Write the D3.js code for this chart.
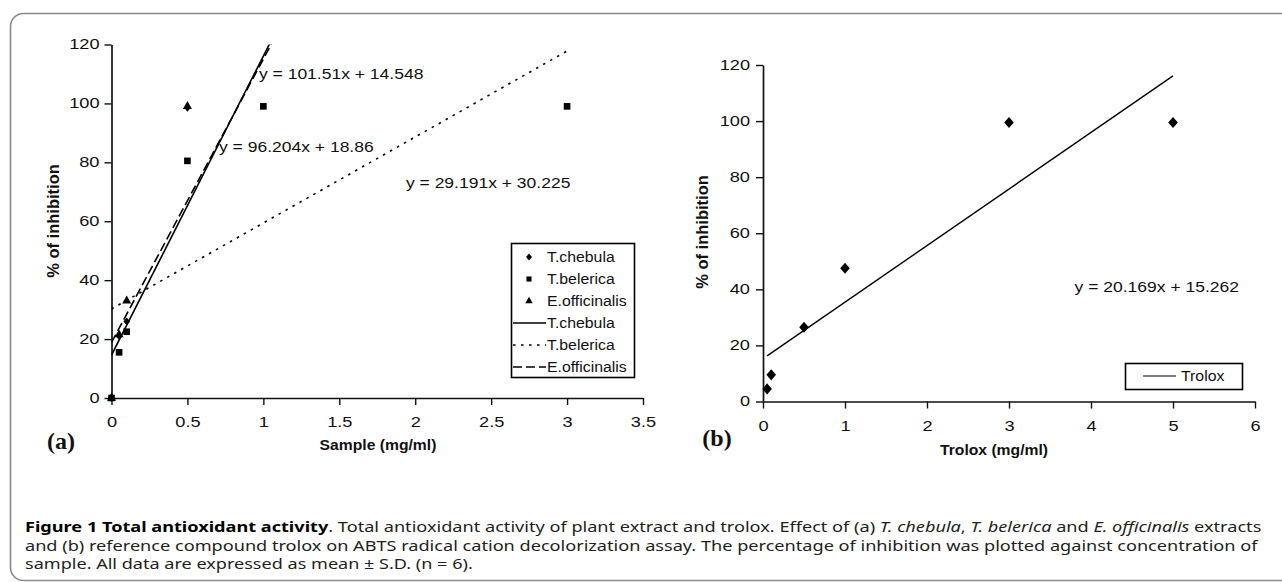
<!DOCTYPE html>
<html><head><meta charset="utf-8">
<script src="https://cdn.jsdelivr.net/npm/d3@7"></script>
<style>
body{margin:0;background:#fff;}
svg{display:block;}
</style></head>
<body>
<svg id="c" width="1282" height="582"></svg>
<script>
// ---------- DATA ----------
const xTicksA = [0, 0.5, 1, 1.5, 2, 2.5, 3, 3.5];
const yTicks = [0, 20, 40, 60, 80, 100, 120];
const xTicksB = [0, 1, 2, 3, 4, 5, 6];

const chebulaX = [0, 0.05, 0.1, 0.5];
const chebulaY = [0, 21, 26, 98.5];
const belericaX = [0, 0.05, 0.1, 0.5, 1, 3];
const belericaY = [0, 15.5, 22.5, 80.5, 99, 99];
const officinalisX = [0, 0.05, 0.1, 0.5];
const officinalisY = [0, 21.5, 33, 99];

const trendNames = ["T.chebula", "T.belerica", "E.officinalis"];
const trendSlopes = [101.51, 29.191, 96.204];
const trendIntercepts = [14.548, 30.225, 18.86];
const trendRanges = [[0, 1.2], [0, 3], [0, 1.2]];
const trendLabels = ["y = 101.51x + 14.548", "y = 29.191x + 30.225", "y = 96.204x + 18.86"];
const trendLabelAt = [[0.971, 110], [1.939, 73], [0.708, 85.2]];

const troloxX = [0.05, 0.1, 0.5, 1, 3, 5];
const troloxY = [4.5, 9.5, 26.5, 47.5, 99.5, 99.5];
const troloxSlope = 20.169, troloxIntercept = 15.262;
const troloxRange = [0.05, 5];
const troloxLabel = "y = 20.169x + 15.262";
const troloxLabelAt = [3.80, 40.7];

const legendA = ["T.chebula", "T.belerica", "E.officinalis", "T.chebula", "T.belerica", "E.officinalis"];

// ---------- HELPERS ----------
const svg = d3.select("#c");
const F = 'Arial,"Liberation Sans",sans-serif';
function stretch(sel, k) {
  sel.each(function () {
    const w = this.getComputedTextLength();
    d3.select(this).attr("textLength", w * k).attr("lengthAdjust", "spacingAndGlyphs");
  });
}
const diamondType = {
  draw(ctx, size) {
    const r = Math.sqrt(size / 2);
    ctx.moveTo(0, -r * 1.15); ctx.lineTo(r, 0); ctx.lineTo(0, r * 1.15); ctx.lineTo(-r, 0); ctx.closePath();
  }
};
const sym = {
  diamond: d3.symbol().type(diamondType),
  square: d3.symbol().type(d3.symbolSquare),
  triangle: d3.symbol().type(d3.symbolTriangle)
};
function pts(g, xs, ys, x, y, s, size) {
  g.selectAll(null).data(xs.map((v, i) => [v, ys[i]])).join("path")
    .attr("d", s.size(size)()).attr("fill", "#000")
    .attr("transform", d => `translate(${x(d[0])},${y(d[1])})`);
}
function axes(g, x, y, xt, yt, xfmt, xLabY, yLabX) {
  const xa = g.append("g").attr("transform", `translate(0,${y.range()[0]})`)
    .call(d3.axisBottom(x).tickValues(xt).tickSize(7).tickSizeOuter(0).tickFormat(xfmt));
  const ya = g.append("g").attr("transform", `translate(${x.range()[0]},0)`)
    .call(d3.axisLeft(y).tickValues(yt).tickSize(7).tickSizeOuter(0));
  [xa, ya].forEach(a => {
    a.select(".domain").attr("stroke", "#111").attr("stroke-width", 1.7);
    a.selectAll(".tick line").attr("stroke", "#111").attr("stroke-width", 1.4);
    a.selectAll(".tick text").attr("font-size", 14).attr("fill", "#111").attr("font-family", F);
  });
  xa.selectAll(".tick text").attr("y", xLabY);
  ya.selectAll(".tick text").attr("x", -yLabX);
  stretch(xa.selectAll(".tick text"), 1.3);
  stretch(ya.selectAll(".tick text"), 1.3);
}

// frame
svg.append("rect").attr("x", 10.5).attr("y", 13.5).attr("width", 1300).attr("height", 567)
  .attr("rx", 13).attr("fill", "none").attr("stroke", "#8a8a8a").attr("stroke-width", 1.6);

// ---- Panel A ----
const xA = d3.scaleLinear().domain([0, 3.5]).range([111.5, 643]);
const yA = d3.scaleLinear().domain([0, 120]).range([398, 44.5]);
const gA = svg.append("g");
gA.append("clipPath").attr("id", "clipA").append("rect")
  .attr("x", xA(0)).attr("y", yA(120)).attr("width", xA(3.5) - xA(0)).attr("height", yA(0) - yA(120));
axes(gA, xA, yA, xTicksA, yTicks, d3.format("~g"), 19, 12);

const dashes = [null, "2.5,5.5", "9,4"];
const lineG = gA.append("g").attr("clip-path", "url(#clipA)");
trendNames.forEach((n, i) => {
  const xs = trendRanges[i];
  lineG.append("line")
    .attr("x1", xA(xs[0])).attr("y1", yA(trendSlopes[i] * xs[0] + trendIntercepts[i]))
    .attr("x2", xA(xs[1])).attr("y2", yA(trendSlopes[i] * xs[1] + trendIntercepts[i]))
    .attr("stroke", "#000").attr("stroke-width", 1.6)
    .attr("stroke-dasharray", dashes[i]);
});

pts(gA, belericaX, belericaY, xA, yA, sym.square, 44);
pts(gA, chebulaX, chebulaY, xA, yA, sym.diamond, 22);
pts(gA, officinalisX, officinalisY, xA, yA, sym.triangle, 36);

trendLabels.forEach((t, i) => {
  gA.append("text").attr("class", "eq").attr("x", xA(trendLabelAt[i][0])).attr("y", yA(trendLabelAt[i][1]))
    .attr("dy", "0.35em").attr("font-family", F).attr("font-size", 14).attr("fill", "#111").text(t);
});
stretch(gA.selectAll(".eq"), 1.25);

// legend A
const lgA = gA.append("g");
lgA.append("rect").attr("x", 511.5).attr("y", 243.5).attr("width", 123).attr("height", 134)
  .attr("fill", "#fff").attr("stroke", "#000").attr("stroke-width", 1.6);
const legSyms = [sym.diamond, sym.square, sym.triangle];
const legSizes = [18, 26, 24];
legendA.forEach((n, i) => {
  const cy = 257 + i * 22;
  if (i < 3) {
    lgA.append("path").attr("d", legSyms[i].size(legSizes[i])()).attr("fill", "#000")
      .attr("transform", `translate(529,${cy})`);
  } else {
    lgA.append("line").attr("x1", 513).attr("x2", 546).attr("y1", cy).attr("y2", cy)
      .attr("stroke", "#000").attr("stroke-width", 1.6).attr("stroke-dasharray", dashes[i - 3]);
  }
  lgA.append("text").attr("class", "lg").attr("x", 547).attr("y", cy).attr("dy", "0.35em")
    .attr("font-family", F).attr("font-size", 14).attr("fill", "#111").text(n);
});
stretch(lgA.selectAll(".lg"), 1.13);

// titles A
const tA = gA.append("text").attr("x", 378).attr("y", 445).attr("dy", "0.35em").attr("text-anchor", "middle")
  .attr("font-family", F).attr("font-weight", "bold").attr("font-size", 14).attr("fill", "#111").text("Sample (mg/ml)");
stretch(tA, 1.12);
gA.append("text").attr("transform", "translate(53,221) rotate(-90)").attr("dy", "0.35em")
  .attr("text-anchor", "middle").attr("font-family", F).attr("font-weight", "bold").attr("font-size", 16.5)
  .attr("fill", "#111").text("% of inhibition");
gA.append("text").attr("x", 61).attr("y", 441).attr("dy", "0.35em").attr("text-anchor", "middle")
  .attr("font-family", '"Liberation Serif","DejaVu Serif",serif').attr("font-weight", "bold").attr("font-size", 24)
  .attr("fill", "#111").text("(a)");

// ---- Panel B ----
const xB = d3.scaleLinear().domain([0, 6]).range([763, 1255]);
const yB = d3.scaleLinear().domain([0, 120]).range([401.5, 65]);
const gB = svg.append("g");
axes(gB, xB, yB, xTicksB, yTicks, d3.format("d"), 20, 13);
gB.append("line")
  .attr("x1", xB(troloxRange[0])).attr("y1", yB(troloxSlope * troloxRange[0] + troloxIntercept))
  .attr("x2", xB(troloxRange[1])).attr("y2", yB(troloxSlope * troloxRange[1] + troloxIntercept))
  .attr("stroke", "#000").attr("stroke-width", 1.4);
pts(gB, troloxX, troloxY, xB, yB, sym.diamond, 46);
const eqB = gB.append("text").attr("x", xB(troloxLabelAt[0])).attr("y", yB(troloxLabelAt[1])).attr("dy", "0.35em")
  .attr("font-family", F).attr("font-size", 14).attr("fill", "#111").text(troloxLabel);
stretch(eqB, 1.25);
gB.append("rect").attr("x", 1125.5).attr("y", 363.5).attr("width", 117).attr("height", 26)
  .attr("fill", "#fff").attr("stroke", "#000").attr("stroke-width", 1.6);
gB.append("line").attr("x1", 1143).attr("x2", 1176).attr("y1", 376).attr("y2", 376)
  .attr("stroke", "#000").attr("stroke-width", 1.2);
const lgB = gB.append("text").attr("x", 1181).attr("y", 376).attr("dy", "0.35em")
  .attr("font-family", F).attr("font-size", 14).attr("fill", "#111").text("Trolox");
stretch(lgB, 1.13);
const tB = gB.append("text").attr("x", 994).attr("y", 450).attr("dy", "0.35em").attr("text-anchor", "middle")
  .attr("font-family", F).attr("font-weight", "bold").attr("font-size", 14).attr("fill", "#111").text("Trolox (mg/ml)");
stretch(tB, 1.12);
gB.append("text").attr("transform", "translate(702,232) rotate(-90)").attr("dy", "0.35em")
  .attr("text-anchor", "middle").attr("font-family", F).attr("font-weight", "bold").attr("font-size", 16.5)
  .attr("fill", "#111").text("% of inhibition");
gB.append("text").attr("x", 717).attr("y", 438).attr("dy", "0.35em").attr("text-anchor", "middle")
  .attr("font-family", '"Liberation Serif","DejaVu Serif",serif').attr("font-weight", "bold").attr("font-size", 24)
  .attr("fill", "#111").text("(b)");

// ---- Caption ----
const CF = '"Noto Sans","Open Sans",sans-serif';
const capLines = [
  [["Figure 1 Total antioxidant activity", "b"], [". Total antioxidant activity of plant extract and trolox. Effect of (a) ", ""],
   ["T. chebula", "i"], [", ", ""], ["T. belerica", "i"], [" and ", ""], ["E. officinalis", "i"], [" extracts", ""]],
  [["and (b) reference compound trolox on ABTS radical cation decolorization assay. The percentage of inhibition was plotted against concentration of", ""]],
  [["sample. All data are expressed as mean \u00b1 S.D. (n = 6).", ""]]
];
const capY = [527, 546, 564];
const capW = [1238, 1234, 448];
capLines.forEach((parts, li) => {
  const g = svg.append("g").attr("transform", `translate(25,${capY[li]})`);
  const t = g.append("text").attr("dy", "0.35em").attr("font-family", CF).attr("font-size", 14).attr("fill", "#231f20");
  parts.forEach(p => {
    const ts = t.append("tspan").text(p[0]);
    if (p[1] === "b") ts.attr("font-weight", "bold").attr("fill", "#000");
    if (p[1] === "i") ts.attr("font-style", "italic");
  });
  const w = t.node().getComputedTextLength();
  t.attr("transform", `scale(${capW[li] / w},1)`);
});
</script>
</body></html>
